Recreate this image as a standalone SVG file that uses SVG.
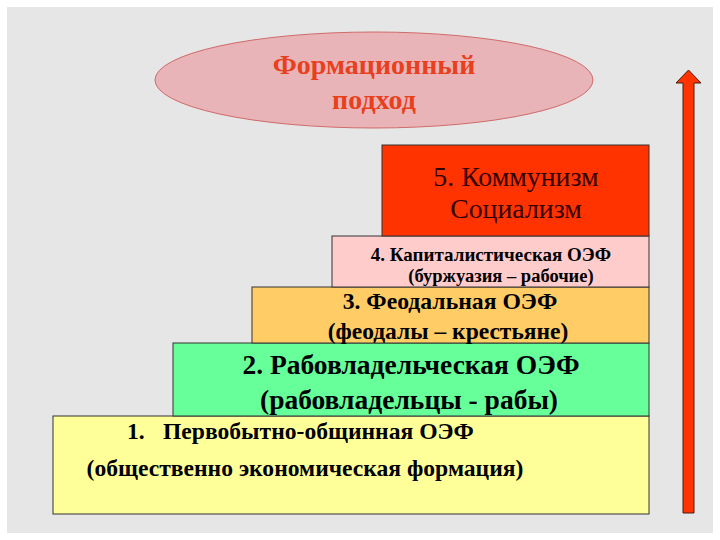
<svg xmlns="http://www.w3.org/2000/svg" width="720" height="540" viewBox="0 0 720 540">
<style>
text{font-family:"Liberation Serif","DejaVu Serif",serif;text-anchor:middle;fill:#000}
.b{font-weight:bold}
.box{stroke:#333;stroke-width:1}
.red{fill:#e8401c}
</style>
<rect x="0" y="0" width="720" height="540" fill="#ffffff"/>
<rect x="7" y="7" width="706" height="526" fill="#e6e6e6"/>
<g id="ellipse">
<ellipse cx="374" cy="80" rx="219" ry="48" fill="#e8b4b8" stroke="#d06a6a" stroke-width="1"/>
<text class="b red" x="374" y="74" font-size="28">Формационный</text>
<text class="b red" x="374" y="109" font-size="28">подход</text>
</g>
<g id="step1">
<rect class="box" x="53" y="416" width="596" height="98" fill="#ffff99"/>
<text class="b" x="127" y="439" font-size="23.6" style="text-anchor:start">1.</text>
<text class="b" x="163" y="439" font-size="23.6" style="text-anchor:start">Первобытно-общинная ОЭФ</text>
<text class="b" x="305" y="476" font-size="23.6">(общественно экономическая формация)</text>
</g>
<g id="step2">
<rect class="box" x="173" y="343" width="476" height="73" fill="#66ff99"/>
<text class="b" x="411" y="374" font-size="27.5">2. Рабовладельческая ОЭФ</text>
<text class="b" x="409" y="409" font-size="27.5">(рабовладельцы - рабы)</text>
</g>
<g id="step3">
<rect class="box" x="252" y="287" width="397" height="56" fill="#ffcc66"/>
<text class="b" x="450" y="309" font-size="23.7">3. Феодальная ОЭФ</text>
<text class="b" x="448" y="339" font-size="23.5">(феодалы – крестьяне)</text>
</g>
<g id="step4">
<rect class="box" x="332" y="236" width="317" height="51" fill="#ffcccc"/>
<text class="b" x="491" y="261" font-size="19">4. Капиталистическая ОЭФ</text>
<text class="b" x="501" y="282" font-size="18.5">(буржуазия – рабочие)</text>
</g>
<g id="step5">
<rect class="box" x="382" y="145" width="267" height="91" fill="#ff3300"/>
<text x="516" y="186" font-size="27.8" style="fill:#330000">5. Коммунизм</text>
<text x="516" y="218" font-size="27.8" style="fill:#330000">Социализм</text>
</g>
<g id="connectors">
<path d="M683 513 L683 83 L676 83 L688.5 70 L701 83 L694 83 L694 513 Z" fill="#ff3300" stroke="#4a1a10" stroke-width="1"/>
</g>
</svg>
